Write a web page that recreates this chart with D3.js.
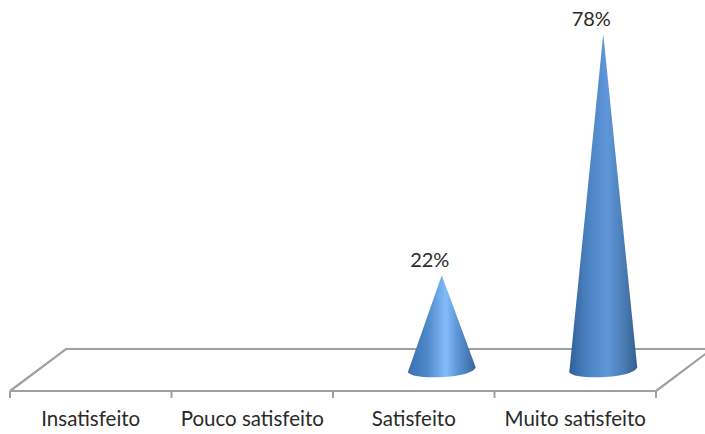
<!DOCTYPE html>
<html><head><meta charset="utf-8">
<script src="https://cdn.jsdelivr.net/npm/d3@7"></script>
<style>html,body{margin:0;padding:0;background:#fff;overflow:hidden}
svg{display:block}text{font-family:Lato,"Open Sans",sans-serif;fill:#2a2a2a}</style>
</head><body><svg id="c" width="705" height="434"></svg>
<script>
const categories = ["Insatisfeito","Pouco satisfeito","Satisfeito","Muito satisfeito"];
const values = [0,0,22,78];
const valueLabels = ["","","22%","78%"];
const gradientStops = {
  "Satisfeito": [[0,"#3a6fb0"],[0.3,"#4f8acb"],[0.56,"#84bcfa"],[0.72,"#5f98d8"],[1,"#38659c"]],
  "Muito satisfeito": [[0,"#2f6099"],[0.25,"#4a80c0"],[0.56,"#5f97da"],[0.8,"#4a7db5"],[1,"#34608f"]]
};
const W=705,H=434, front=391, back=349, left=10, right=656, dx=56;
const svg=d3.select("#c");
const x=d3.scaleBand().domain(categories).range([left,right]);
const y=d3.scaleLinear().domain([0,78]).range([370,34]);
const defs=svg.append("defs");
Object.entries(gradientStops).forEach(([k,st],i)=>{
  const g=defs.append("linearGradient").attr("id","g"+i).attr("x1",0).attr("x2",1).attr("y1",0).attr("y2",0);
  st.forEach(s=>g.append("stop").attr("offset",s[0]).attr("stop-color",s[1]));
});
defs.append("filter").attr("id","soft").append("feGaussianBlur").attr("stdDeviation",0.45);
const gid=k=>"url(#g"+Object.keys(gradientStops).indexOf(k)+")";
// floor
const floor=d3.line();
svg.append("path").attr("d",floor([[left,front],[left+dx,back],[right+dx,back],[right,front]]))
  .attr("fill","#fff").attr("stroke","#a0a0a0").attr("stroke-width",2.2);
svg.append("line").attr("x1",left).attr("x2",right).attr("y1",front).attr("y2",front)
  .attr("stroke","#a0a0a0").attr("stroke-width",2.2);
// ticks
const tickPos=categories.map(c=>x(c)).concat([right]);
svg.selectAll(".t").data(tickPos).join("line").attr("class","t")
  .attr("x1",d=>d).attr("x2",d=>d).attr("y1",front).attr("y2",front+7)
  .attr("stroke","#a0a0a0").attr("stroke-width",2);
// labels
svg.selectAll(".c").data(categories).join("text").attr("class","c")
  .attr("x",d=>x(d)+x.bandwidth()/2).attr("y",426).attr("text-anchor","middle")
  .attr("font-size",20.5).text(d=>d);
// cones
const rx=34, ry=7;
const rows=categories.map((c,i)=>({c,v:values[i],l:valueLabels[i]}));
const cones=rows.filter(d=>d.v>0);
svg.selectAll(".cone").data(cones).join("path").attr("class","cone")
  .attr("fill",d=>gid(d.c)).attr("filter","url(#soft)")
  .attr("d",d=>{
    const cx=x(d.c)+x.bandwidth()/2+dx/2, by=y(0);
    return `M${cx-rx},${by+2.5}L${cx},${y(d.v)}L${cx+rx},${by-2.5}`+
      `Q${cx+rx-4},${by+5} ${cx+2},${by+7}Q${cx-rx+6},${by+8.5} ${cx-rx},${by+2.5}Z`;
  });
svg.selectAll(".v").data(cones).join("text").attr("class","v")
  .attr("x",d=>x(d.c)+x.bandwidth()/2+dx/2-12).attr("y",d=>y(d.v)-8)
  .attr("text-anchor","middle").attr("font-size",20).text(d=>d.l);
</script></body></html>
